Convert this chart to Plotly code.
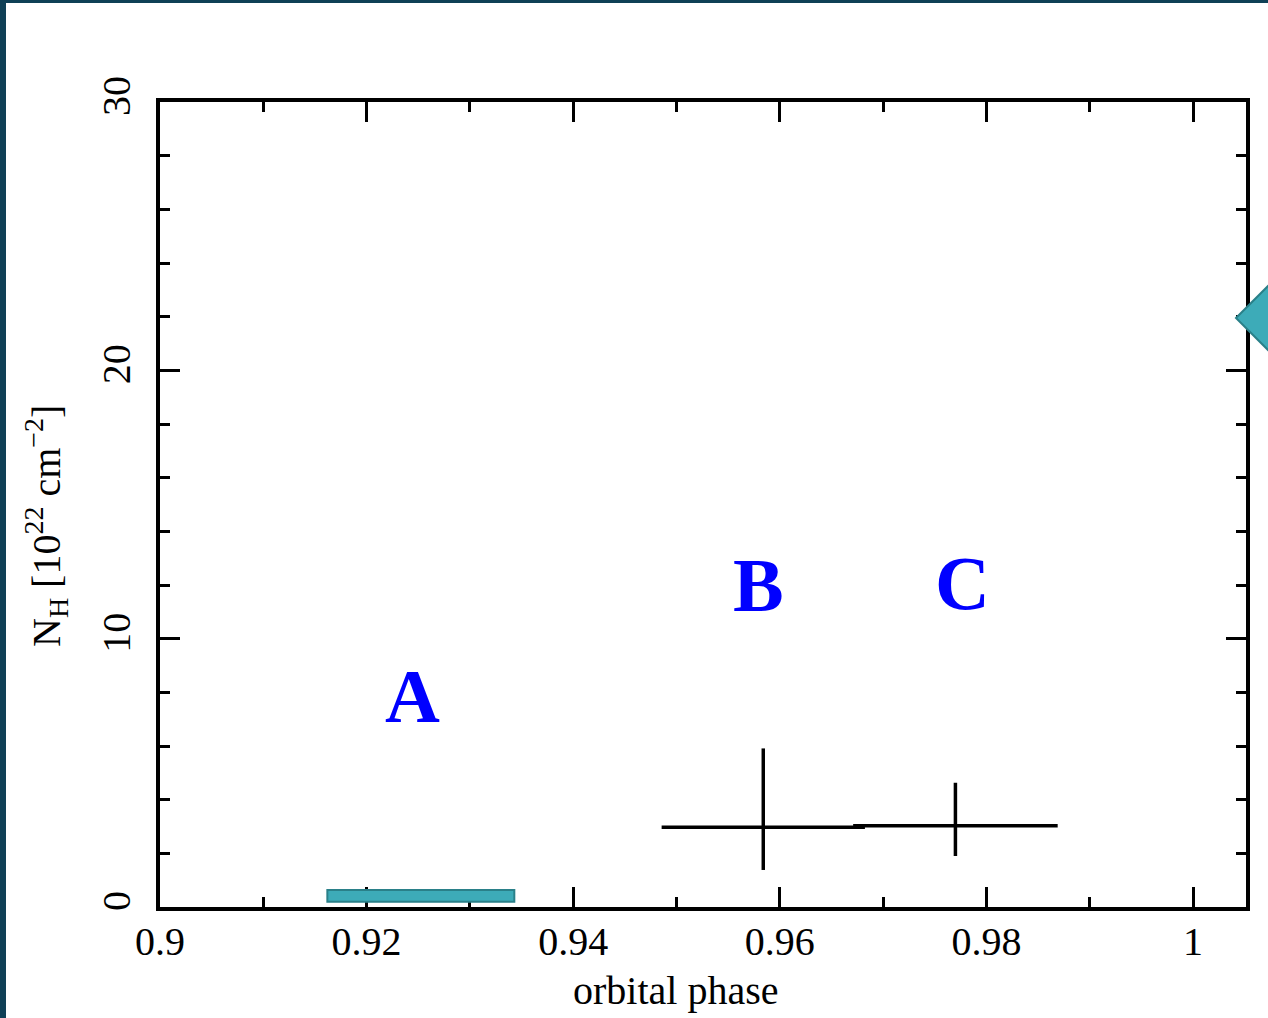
import plotly.graph_objects as go

# ---- data ----
# Observation A: range box (no error-cross)
a_phase = [0.9162, 0.9343]
a_nh = [0.20, 0.63]

# Observations B, C with error bars
bc_phase = [0.9584, 0.9770]
bc_phase_err = [0.00984, 0.0099]
bc_nh = [2.97, 3.03]
bc_nh_err_plus = [2.94, 1.60]
bc_nh_err_minus = [1.59, 1.13]

# Labels
label_text = ["A", "B", "C"]
label_phase = [0.9244, 0.9579, 0.9777]
label_nh = [7.86, 12.0, 12.09]

x_range = [0.9, 1.00513]
y_range = [0, 30]

TEAL = "#3DABB8"
TEAL_EDGE = "#2A8089"
SERIF = "Liberation Serif, Times New Roman, serif"

# plot area geometry (px)
L, R, T, B = 160, 1246, 102, 907
PW, PH = R - L, B - T


def px(xp):
    return (xp - L) / PW


def py(yp):
    return (B - yp) / PH


fig = go.Figure()

# A box
fig.add_shape(type="rect", xref="x", yref="y",
              x0=a_phase[0], x1=a_phase[1], y0=a_nh[0], y1=a_nh[1],
              fillcolor=TEAL, line=dict(color=TEAL_EDGE, width=2), layer="above")

# B, C error crosses
fig.add_trace(go.Scatter(
    x=bc_phase, y=bc_nh, mode="markers",
    marker=dict(size=0.1, color="black"),
    error_x=dict(type="data", array=bc_phase_err, symmetric=True,
                 color="black", thickness=3.5, width=0),
    error_y=dict(type="data", array=bc_nh_err_plus, arrayminus=bc_nh_err_minus,
                 symmetric=False, color="black", thickness=3.5, width=0),
    showlegend=False, hoverinfo="skip"))

# decorative slide diamond, partially visible past the right edge
cx, cy, hw = 1276, 318, 40
fig.add_shape(type="path", xref="paper", yref="paper",
              path="M %f,%f L %f,%f L %f,%f L %f,%f Z" % (
                  px(cx - hw), py(cy), px(cx), py(cy - hw),
                  px(cx + hw), py(cy), px(cx), py(cy + hw)),
              fillcolor=TEAL, line=dict(color=TEAL_EDGE, width=2), layer="above")

for t, xx, yy in zip(label_text, label_phase, label_nh):
    fig.add_annotation(x=xx, y=yy, xref="x", yref="y", text="<b>%s</b>" % t,
                       showarrow=False, xanchor="center", yanchor="middle",
                       font=dict(family=SERIF, size=76, color="#0000FF"))

# axis titles
fig.add_annotation(x=px(675.5), y=py(990), xref="paper", yref="paper",
                   text="orbital phase", showarrow=False,
                   xanchor="center", yanchor="middle",
                   font=dict(family=SERIF, size=40, color="black"))
fig.add_annotation(x=px(46), y=py(526), xref="paper", yref="paper",
                   text="N<sub>H</sub> [10<sup>22</sup> cm<sup>\u22122</sup>]",
                   textangle=-90, showarrow=False,
                   xanchor="center", yanchor="middle",
                   font=dict(family=SERIF, size=40, color="black"))

# slide frame bars
FRAME = "#0F4056"
fig.add_shape(type="rect", xref="paper", yref="paper",
              x0=-0.2, x1=1.2, y0=py(3), y1=1.2,
              fillcolor=FRAME, line=dict(width=0), layer="above")
fig.add_shape(type="rect", xref="paper", yref="paper",
              x0=-0.2, x1=px(6), y0=-0.2, y1=1.2,
              fillcolor=FRAME, line=dict(width=0), layer="above")

axis_common = dict(showline=True, linecolor="black", linewidth=4, mirror="ticks",
                   ticks="inside", ticklen=20, tickwidth=3, tickcolor="black",
                   showgrid=False, zeroline=False,
                   tickfont=dict(family=SERIF, size=40, color="black"))

fig.update_xaxes(range=x_range, tickmode="array",
                 tickvals=[0.9, 0.92, 0.94, 0.96, 0.98, 1.0],
                 ticktext=["0.9", "0.92", "0.94", "0.96", "0.98", "1"],
                 minor=dict(tickvals=[0.91, 0.93, 0.95, 0.97, 0.99], ticks="inside",
                            ticklen=10, tickwidth=3, tickcolor="black", showgrid=False),
                 ticklabelstandoff=-4,
                 **axis_common)
fig.update_yaxes(range=y_range, tickmode="array",
                 tickvals=[0, 10, 20, 30], ticktext=["0", "10", "20", "30"],
                 tickangle=-90,
                 minor=dict(tickvals=[2, 4, 6, 8, 12, 14, 16, 18, 22, 24, 26, 28],
                            ticks="inside", ticklen=10, tickwidth=3,
                            tickcolor="black", showgrid=False),
                 ticklabelstandoff=10,
                 **axis_common)

fig.update_layout(width=1268, height=1018, autosize=False,
                  margin=dict(l=L, r=1268 - R, t=T, b=1018 - B),
                  paper_bgcolor="white", plot_bgcolor="white",
                  showlegend=False)

fig.write_html("out.html", config={"displayModeBar": False},
               post_script="document.body.style.margin='0';document.body.style.overflow='hidden';")
